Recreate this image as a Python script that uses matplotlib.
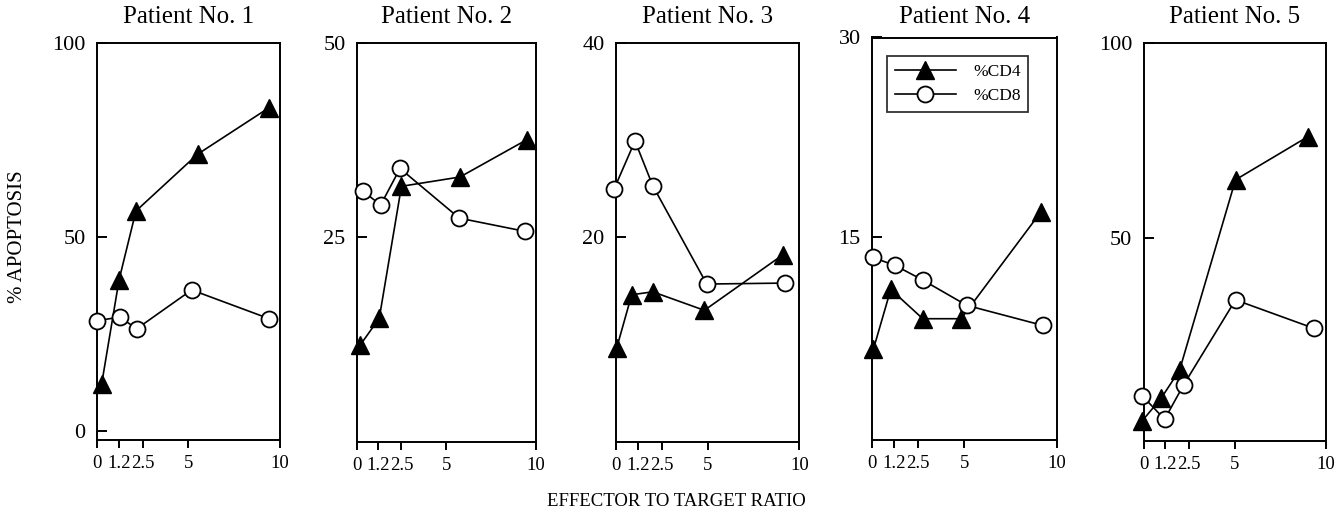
import matplotlib
matplotlib.use("Agg")
import matplotlib.pyplot as plt

plt.rcParams['font.family'] = ['Liberation Serif', 'DejaVu Serif']

# effector to target ratio ticks
ratio_ticks = [0, 1.2, 2.5, 5, 10]
ratio_labels = ['0', '1.2', '2.5', '5', '10']

patients = ['Patient No. 1', 'Patient No. 2', 'Patient No. 3', 'Patient No. 4', 'Patient No. 5']

# %CD4 apoptosis (x = plotted ratio position, y = %)
cd4_x = [
    [0.27, 1.22, 2.14, 5.5, 9.41],
    [0.18, 1.26, 2.5, 5.77, 9.5],
    [0.05, 0.87, 2.02, 4.83, 9.1],
    [0.09, 1.03, 2.76, 4.83, 9.14],
    [-0.07, 0.97, 1.98, 5.05, 9.04],
]
cd4_y = [
    [12.2, 39.0, 56.7, 71.3, 83.3],
    [11.0, 14.5, 31.5, 32.7, 37.5],
    [8.6, 14.1, 14.4, 12.5, 18.2],
    [6.6, 11.1, 8.9, 8.9, 16.9],
    [3.2, 9.0, 16.2, 65.0, 76.1],
]

# %CD8 apoptosis
cd8_x = [
    [0.0, 1.27, 2.18, 5.18, 9.41],
    [0.33, 1.34, 2.42, 5.73, 9.4],
    [-0.08, 1.05, 2.02, 4.96, 9.22],
    [0.05, 1.26, 2.76, 5.14, 9.24],
    [-0.07, 1.16, 2.2, 5.05, 9.36],
]
cd8_y = [
    [28.5, 29.4, 26.4, 36.4, 29.0],
    [30.9, 29.1, 33.8, 27.4, 25.7],
    [25.0, 29.9, 25.3, 15.2, 15.3],
    [13.5, 12.9, 11.8, 9.9, 8.4],
    [9.6, 3.6, 12.4, 34.2, 26.9],
]

y_limits = [(-2.2, 100), (-1.4, 50), (-1.0, 40), (-0.2, 30), (-1.9, 100)]
y_ticks = [[0, 50, 100], [25, 50], [20, 40], [15, 30], [50, 100]]

W, H = 1341, 514
# axes boxes in pixels: left, right, top, bottom
boxes = [
    (96.7, 280.0, 42.7, 440.0),
    (356.7, 535.7, 42.7, 441.7),
    (615.7, 799.3, 42.7, 441.7),
    (871.7, 1056.7, 37.5, 440.0),
    (1143.5, 1325.7, 43.3, 440.7),
]

fig = plt.figure(figsize=(W / 100, H / 100), dpi=100)

for i in range(5):
    l, r, t, b = boxes[i]
    ax = fig.add_axes([l / W, 1 - b / H, (r - l) / W, (b - t) / H])
    ax.plot(cd4_x[i], cd4_y[i], color='black', lw=1.2, marker='^', ms=13,
            mfc='black', mec='black', clip_on=False, zorder=3, label='%CD4')
    ax.plot(cd8_x[i], cd8_y[i], color='black', lw=1.2, marker='o', ms=11.5,
            mfc='white', mec='black', mew=1.3, clip_on=False, zorder=4, label='%CD8')
    ax.set_xlim(0, 10)
    ax.set_ylim(*y_limits[i])
    ax.set_xticks(ratio_ticks)
    ax.set_xticklabels(ratio_labels)
    ax.set_yticks(y_ticks[i])
    ax.set_yticklabels([str(v) for v in y_ticks[i]])
    ax.tick_params(axis='x', direction='out', length=6, width=1.4, pad=5, labelsize=13.5)
    ax.tick_params(axis='y', direction='in', length=7, width=1.4, pad=8, labelsize=16)
    for s in ax.spines.values():
        s.set_linewidth(1.4)
    fig.text((l + r) / 2 / W, 1 - 17 / H, patients[i], ha='center', va='center', fontsize=18)
    if i == 3:
        leg = ax.legend(loc='upper left', bbox_to_anchor=(0.083, 0.954), fontsize=12.5,
                        frameon=True, fancybox=False, edgecolor='black', handlelength=3.5,
                        borderaxespad=0, borderpad=0.45, labelspacing=0.45, handletextpad=1.0)
        leg.get_frame().set_linewidth(1.3)

fig.text(18 / W, 1 - 237 / H, '% APOPTOSIS', rotation=90, ha='center', va='center', fontsize=15)
fig.text(676 / W, 1 - 501 / H, 'EFFECTOR TO TARGET RATIO', ha='center', va='center', fontsize=13.5)

fig.savefig('out.png', dpi=100)
